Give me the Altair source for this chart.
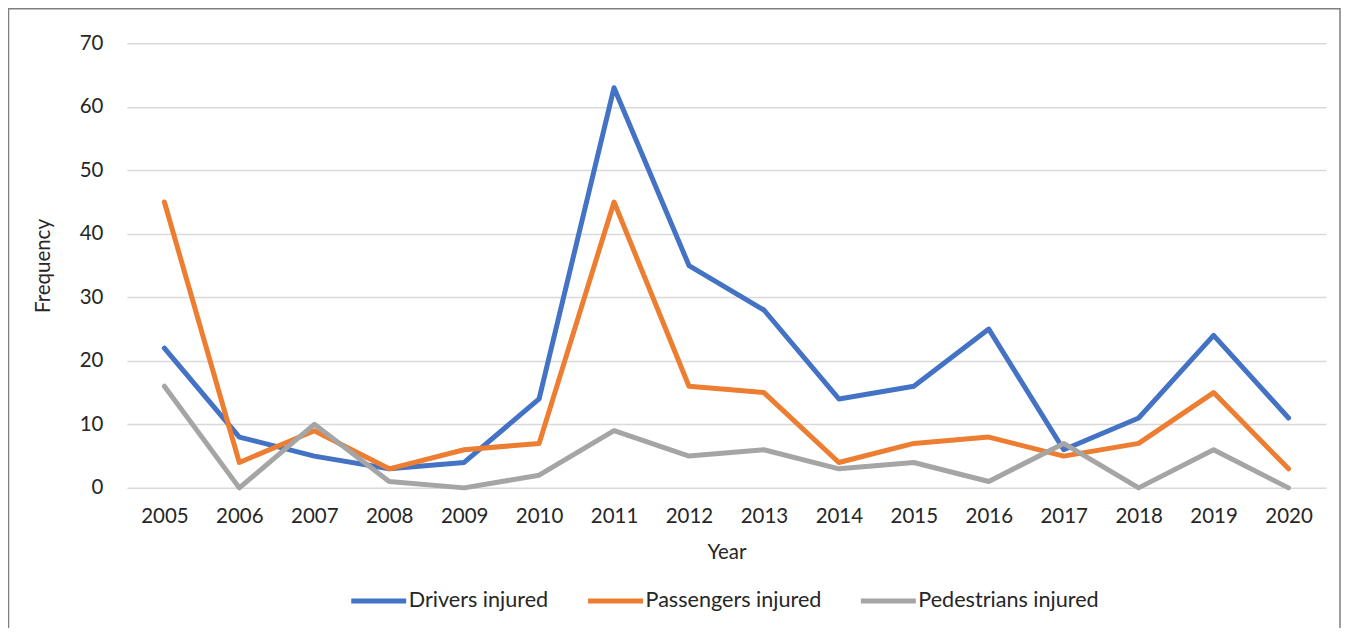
import altair as alt
import pandas as pd

years = [str(y) for y in range(2005, 2021)]
drivers = [22, 8, 5, 3, 4, 14, 63, 35, 28, 14, 16, 25, 6, 11, 24, 11]
passengers = [45, 4, 9, 3, 6, 7, 45, 16, 15, 4, 7, 8, 5, 7, 15, 3]
pedestrians = [16, 0, 10, 1, 0, 2, 9, 5, 6, 3, 4, 1, 7, 0, 6, 0]
series = ["Drivers injured", "Passengers injured", "Pedestrians injured"]
colors = ["#4472C4", "#ED7D31", "#A5A5A5"]

rows = []
for name, vals in zip(series, [drivers, passengers, pedestrians]):
    for y, v in zip(years, vals):
        rows.append({"Year": y, "Frequency": v, "Series": name})
df = pd.DataFrame(rows)

FONT = "Lato"
FS = 20.5

lines = alt.Chart(df).mark_line(strokeWidth=5, strokeJoin="round", strokeCap="round").encode(
    x=alt.X("Year:N", sort=years, scale=alt.Scale(type="point", padding=0.5),
            axis=alt.Axis(title="Year", labelAngle=0, domain=False, ticks=False,
                          labelPadding=19, titlePadding=15, grid=False)),
    y=alt.Y("Frequency:Q", scale=alt.Scale(domain=[0, 70], nice=False),
            axis=alt.Axis(title="Frequency", values=list(range(0, 71, 10)), domain=False,
                          ticks=False, labelPadding=24, titlePadding=26,
                          gridColor="#D9D9D9", gridWidth=1.5)),
    color=alt.Color("Series:N", sort=series,
                    scale=alt.Scale(domain=series, range=colors),
                    legend=alt.Legend(title=None, orient="none", direction="horizontal",
                                      legendX=222, legendY=528,
                                      symbolType="stroke", symbolSize=3025,
                                      symbolStrokeWidth=5, labelOffset=0,
                                      columnPadding=29, labelLimit=500,
                                      labelFontSize=21.6, labelFont=FONT,
                                      labelColor="#262626")),
)

frame = alt.Chart(pd.DataFrame({"a": [0]})).mark_rect(
    filled=False, stroke="#7F7F7F", strokeWidth=1.5
).encode(
    x=alt.value(-118.5), x2=alt.value(1214), y=alt.value(-34.5), y2=alt.value(640)
)

chart = alt.layer(frame, lines).properties(
    width=1200, height=445,
    autosize=alt.AutoSizeParams(type="none"),
    padding={"left": 119, "top": 35, "right": 15, "bottom": 140},
).configure_view(stroke=None).configure_axis(
    labelFont=FONT, titleFont=FONT, labelFontSize=FS, titleFontSize=FS,
    labelColor="#262626", titleColor="#262626", titleFontWeight="normal",
)

chart.save("out.html", embed_options={"renderer": "svg", "actions": False})
